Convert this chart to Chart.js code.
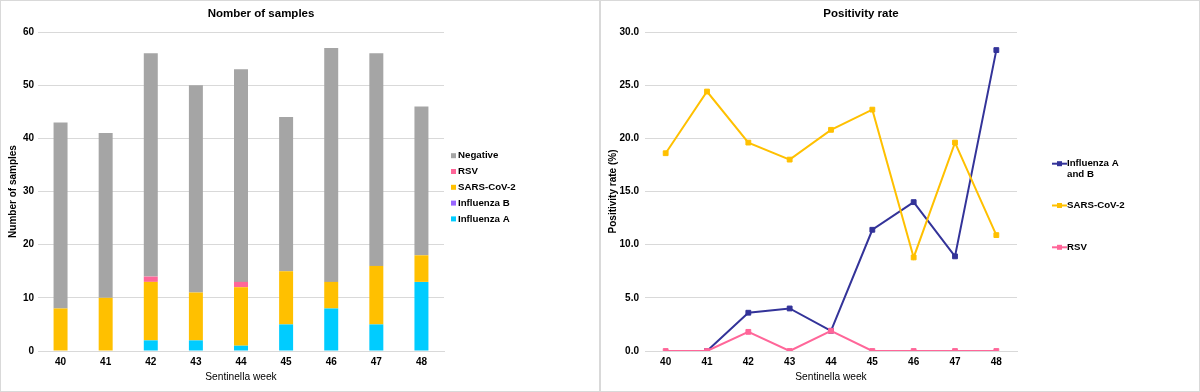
<!DOCTYPE html>
<html><head><meta charset="utf-8">
<script src="https://cdn.jsdelivr.net/npm/chart.js@4"></script>
<style>
html,body{margin:0;padding:0;background:#fff;}
.box{position:absolute;top:0;width:600px;height:392px;box-sizing:border-box;border:1px solid #D9D9D9;background:#fff}
#b1{left:0}#b2{left:600px}
canvas{display:block}
</style></head><body>
<div class="box" id="b1"><canvas id="c1" width="598" height="390"></canvas></div>
<div class="box" id="b2"><canvas id="c2" width="598" height="390"></canvas></div>
<script>
// ---- data ----
const weeks = ['40','41','42','43','44','45','46','47','48'];
const samplesInfluenzaA = [0,0,2,2,1,5,8,5,13];
const samplesInfluenzaB = [0,0,0,0,0,0,0,0,0];
const samplesSarsCov2   = [8,10,11,9,11,10,5,11,5];
const samplesRsv        = [0,0,1,0,1,0,0,0,0];
const samplesNegative   = [35,31,42,39,40,29,44,40,28];
const samplesAxisMax = 60, samplesAxisStep = 10;

const rateInfluenzaAB = [null,0,3.6,4.0,1.9,11.4,14.0,8.9,28.3];
const rateSarsCov2    = [18.6,24.4,19.6,18.0,20.8,22.7,8.8,19.6,10.9];
const rateRsv         = [0,0,1.8,0,1.9,0,0,0,0];
const rateAxisMax = 30, rateAxisStep = 5;

// ---- styles ----
const FONT = "'Liberation Sans', Arial, sans-serif";
const C_NEG = '#A5A5A5', C_RSV = '#FF6699', C_SARS = '#FFC000', C_INFB = '#9966FF', C_INFA = '#00CCFF', C_FLU = '#333399';
const GRID = '#D9D9D9';

const boxTitle = {
  id: 'boxTitle',
  afterDraw(chart, args, o) {
    const ctx = chart.ctx;
    ctx.save();
    ctx.font = o.font;
    ctx.fillStyle = '#000';
    ctx.textAlign = 'center';
    ctx.textBaseline = 'middle';
    ctx.fillText(o.text, o.x, o.y);
    ctx.restore();
  }
};

const customLegend = {
  id: 'customLegend',
  afterDraw(chart, args, o) {
    const ctx = chart.ctx;
    ctx.save();
    ctx.font = o.font;
    ctx.textBaseline = 'middle';
    ctx.textAlign = 'left';
    let y = o.y;
    o.order.forEach(i => {
      const ds = chart.data.datasets[i];
      const color = o.type === 'line' ? ds.borderColor : ds.backgroundColor;
      if (o.type === 'line') {
        ctx.strokeStyle = color; ctx.lineWidth = 2;
        ctx.beginPath(); ctx.moveTo(o.x, y); ctx.lineTo(o.x + 15, y); ctx.stroke();
        ctx.fillStyle = color;
        ctx.fillRect(o.x + 5, y - 2.5, 5, 5);
      } else {
        ctx.fillStyle = color;
        ctx.fillRect(o.x, y - 2.5, 5, 5);
      }
      ctx.fillStyle = '#000';
      const lines = ds.label.split('\n');
      lines.forEach((t, k) => ctx.fillText(t, o.textX, y + k * o.lineH));
      y += o.spacing;
    });
    ctx.restore();
  }
};

const tickFont = {family: FONT, size: 10, weight: 'bold'};

// ---- chart 1 ----
new Chart(document.getElementById('c1'), {
  type: 'bar',
  data: {
    labels: weeks,
    datasets: [
      {label: 'Influenza A', data: samplesInfluenzaA, backgroundColor: C_INFA},
      {label: 'Influenza B', data: samplesInfluenzaB, backgroundColor: C_INFB},
      {label: 'SARS-CoV-2', data: samplesSarsCov2, backgroundColor: C_SARS},
      {label: 'RSV', data: samplesRsv, backgroundColor: C_RSV},
      {label: 'Negative', data: samplesNegative, backgroundColor: C_NEG}
    ]
  },
  options: {
    responsive: false, animation: false,
    layout: {padding: {top: 31, right: 155, left: 0, bottom: 0}},
    datasets: {bar: {categoryPercentage: 1, barPercentage: 0.31, borderWidth: 0}},
    plugins: {
      legend: {display: false}, tooltip: {enabled: false},
      boxTitle: {text: 'Nomber of samples', x: 260, y: 13, font: `bold 11.5px ${FONT}`},
      customLegend: {type: 'bar', order: [4,3,2,1,0], x: 450, textX: 457, y: 154.7, spacing: 15.8, lineH: 11, font: `bold 9.7px ${FONT}`}
    },
    scales: {
      x: {
        stacked: true,
        grid: {display: false, drawTicks: false},
        border: {display: true, color: GRID, width: 1},
        ticks: {font: tickFont, color: '#000', padding: 5, maxRotation: 0},
        title: {display: true, text: 'Sentinella week', font: {family: FONT, size: 10.2}, color: '#000', padding: {top: 2, bottom: 8}},
        afterFit(s) { s.height = 40; }
      },
      y: {
        stacked: true, min: 0, max: samplesAxisMax,
        grid: {color: GRID, drawTicks: false},
        border: {display: false},
        ticks: {stepSize: samplesAxisStep, font: tickFont, color: '#000', padding: 4},
        title: {display: true, text: 'Number of samples', font: {family: FONT, size: 10, weight: 'bold'}, color: '#000', padding: {top: 6, bottom: 2}},
        afterFit(s) { s.width = 37; }
      }
    }
  },
  plugins: [boxTitle, customLegend]
});

// ---- chart 2 ----
const lineStyle = (c) => ({borderColor: c, backgroundColor: c, borderWidth: 2, pointStyle: 'rect', pointRadius: 3.4, pointBorderWidth: 1, pointBackgroundColor: c, pointBorderColor: c, tension: 0});
new Chart(document.getElementById('c2'), {
  type: 'line',
  data: {
    labels: weeks,
    datasets: [
      Object.assign({label: 'Influenza A\nand B', data: rateInfluenzaAB, order: 2}, lineStyle(C_FLU)),
      Object.assign({label: 'SARS-CoV-2', data: rateSarsCov2, order: 1}, lineStyle(C_SARS)),
      Object.assign({label: 'RSV', data: rateRsv, order: 0}, lineStyle(C_RSV))
    ]
  },
  options: {
    responsive: false, animation: false,
    layout: {padding: {top: 31, right: 182, left: 0, bottom: 0}},
    plugins: {
      legend: {display: false}, tooltip: {enabled: false},
      boxTitle: {text: 'Positivity rate', x: 260, y: 13, font: `bold 11.5px ${FONT}`},
      customLegend: {type: 'line', order: [0,1,2], x: 451, textX: 466, y: 162.7, spacing: 41.8, lineH: 10.7, font: `bold 9.7px ${FONT}`}
    },
    scales: {
      x: {
        offset: true,
        grid: {display: false, drawTicks: false, offset: true},
        border: {display: true, color: GRID, width: 1},
        ticks: {font: tickFont, color: '#000', padding: 5, maxRotation: 0},
        title: {display: true, text: 'Sentinella week', font: {family: FONT, size: 10.2}, color: '#000', padding: {top: 2, bottom: 8}},
        afterFit(s) { s.height = 40; }
      },
      y: {
        min: 0, max: rateAxisMax,
        grid: {color: GRID, drawTicks: false},
        border: {display: false},
        ticks: {stepSize: rateAxisStep, font: tickFont, color: '#000', padding: 6, callback: v => Number(v).toFixed(1)},
        title: {display: true, text: 'Positivity rate (%)', font: {family: FONT, size: 10, weight: 'bold'}, color: '#000', padding: {top: 6, bottom: 2}},
        afterFit(s) { s.width = 44; }
      }
    }
  },
  plugins: [boxTitle, customLegend]
});
</script>
</body></html>
